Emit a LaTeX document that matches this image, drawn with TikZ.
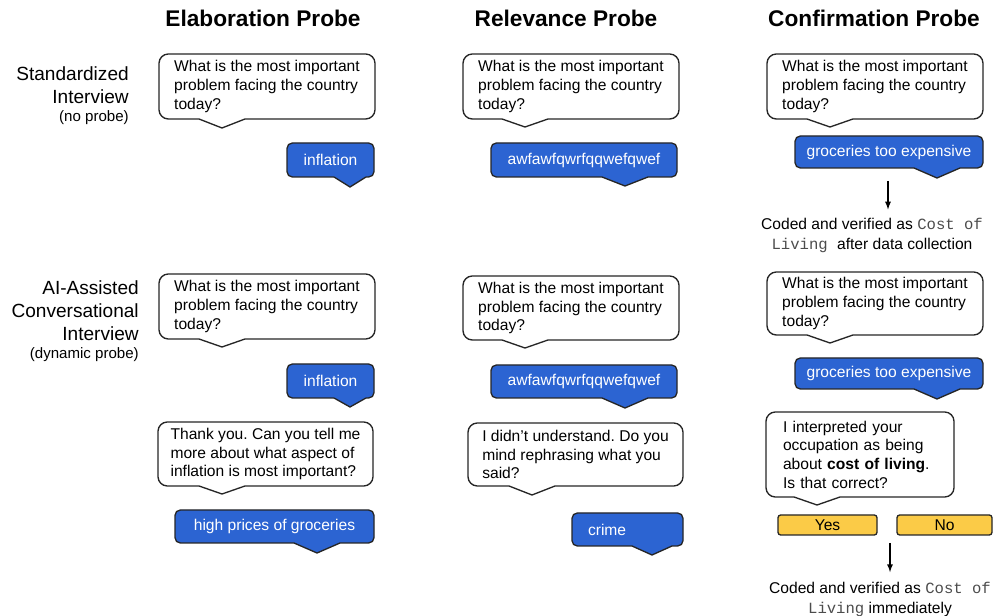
\documentclass[tikz,border=0pt]{standalone}
\usepackage{fontspec}
\setmainfont{Liberation Sans}
\setmonofont{Liberation Mono}
\usetikzlibrary{calc}
\definecolor{probeblue}{HTML}{2C64D2}
\definecolor{btnyellow}{HTML}{FBCB47}
\definecolor{edgegray}{HTML}{262626}
\newcommand{\bodytxt}{\fontsize{11.7}{14}\selectfont}
\newcommand{\cat}[1]{{\ttfamily\color{black!70}#1}}
% tail under a bubble: node, fill, tip offset from west, half base, depth
\newcommand{\bubbletail}[5]{%
  \fill[#2] ($(#1.south west)+(#3-#4,-1)$) rectangle ($(#1.south west)+(#3+#4,1)$);
  \filldraw[fill=#2,draw=edgegray,line width=1pt] ($(#1.south west)+(#3-#4,0)$) -- ($(#1.south west)+(#3,#5)$) -- ($(#1.south west)+(#3+#4,0)$);}
\tikzset{
  qbox/.style={draw=edgegray, line width=1pt, fill=white, rounded corners=7pt, outer sep=0pt, inner sep=0pt, align=left, font=\bodytxt, anchor=north west},
  abox/.style={draw=edgegray, line width=1pt, fill=probeblue, text=white, rounded corners=4pt, outer sep=0pt, inner sep=0pt, font=\bodytxt, anchor=north west},
  btn/.style={draw=edgegray, line width=1pt, fill=btnyellow, rounded corners=2pt, outer sep=0pt, inner sep=0pt, font=\bodytxt, anchor=north west, minimum height=15pt},
  ttl/.style={font=\fontsize{17}{20}\selectfont\bfseries},
  rowlbl/.style={font=\fontsize{14.3}{17.3}\selectfont, align=right, anchor=east, inner sep=0pt},
  rowsub/.style={font=\fontsize{11.3}{13}\selectfont, anchor=east, inner sep=0pt},
  coded/.style={font=\fontsize{11.7}{15}\selectfont, align=center, inner sep=0pt},
  arr/.style={-latex, line width=1pt}
}
\frenchspacing
\begin{document}
\begin{tikzpicture}[x=0.75pt, y=-0.75pt]
\useasboundingbox (0,0) rectangle (993,616);

\node[ttl] (tElab) at (263,18) {Elaboration Probe};
\node[ttl] (tRel) at (566,18) {Relevance Probe};
\node[ttl] (tConf) at (874,18) {Confirmation Probe};

\node[rowlbl] (lStd) at (129,85.5) {Standardized\\Interview};
\node[rowsub] (lStdSub) at (129,118) {(no probe)};
\node[rowlbl] (lAI) at (139,310.5) {AI-Assisted\\Conversational\\Interview};
\node[rowsub] (lAISub) at (139,355) {(dynamic probe)};

% standardized row
\node[qbox, minimum width=162pt, minimum height=48.75pt] (e1q) at (159,54) {What is the most important\\problem facing the country\\today?};
\bubbletail{e1q}{white}{63}{23}{9}
\node[abox, minimum width=65.25pt, minimum height=25.5pt] (e1a) at (287,143) {inflation};
\bubbletail{e1a}{probeblue}{63}{16}{10}

\node[qbox, minimum width=162pt, minimum height=48.75pt] (r1q) at (463,54) {What is the most important\\problem facing the country\\today?};
\bubbletail{r1q}{white}{62}{23}{8}
\node[abox, minimum width=139.5pt, minimum height=25.5pt] (r1a) at (491,143) {awfawfqwrfqqwefqwef};
\bubbletail{r1a}{probeblue}{134}{23}{9}

\node[qbox, minimum width=162pt, minimum height=48.75pt] (c1q) at (767,54) {What is the most important\\problem facing the country\\today?};
\bubbletail{c1q}{white}{63}{23}{8}
\node[abox, minimum width=141pt, minimum height=24pt] (c1a) at (795,136) {groceries too expensive};
\bubbletail{c1a}{probeblue}{142}{23}{10}

\coordinate (c1out) at (888,181);
\node[coded] (c1code) at (872,235) {Coded and verified as \cat{Cost of}\\\cat{Living }after data collection};
\draw[arr, shorten >=6pt] (c1out) -- (c1out |- c1code.north);

% conversational row
\node[qbox, minimum width=162pt, minimum height=48.75pt] (e2q) at (159,274) {What is the most important\\problem facing the country\\today?};
\bubbletail{e2q}{white}{63}{23}{8}
\node[abox, minimum width=65.25pt, minimum height=25.5pt] (e2a) at (287,364) {inflation};
\bubbletail{e2a}{probeblue}{63}{16}{9}
\node[qbox, minimum width=161.25pt, minimum height=48pt] (e2f) at (158,422) {Thank you. Can you tell me\\more about what aspect of\\inflation is most important?};
\bubbletail{e2f}{white}{64}{23}{8}
\node[abox, minimum width=149.25pt, minimum height=24.75pt] (e2b) at (175,510) {high prices of groceries};
\bubbletail{e2b}{probeblue}{142}{23}{10}

\node[qbox, minimum width=162pt, minimum height=48pt] (r2q) at (463,276) {What is the most important\\problem facing the country\\today?};
\bubbletail{r2q}{white}{62}{23}{8}
\node[abox, minimum width=139.5pt, minimum height=24.75pt] (r2a) at (491,365) {awfawfqwrfqqwefqwef};
\bubbletail{r2a}{probeblue}{134}{23}{10}
\node[qbox, minimum width=161.25pt, minimum height=47.25pt] (r2f) at (468,423) {I didn't understand. Do you\\mind rephrasing what you\\said?};
\bubbletail{r2f}{white}{64}{23}{9}
\node[abox, text width=59.25pt, inner xsep=12pt, align=left, minimum height=24.75pt] (r2b) at (572,513) {crime};
\bubbletail{r2b}{probeblue}{80}{20}{9}

\node[qbox, minimum width=162pt, minimum height=47.25pt] (c2q) at (767,272) {What is the most important\\problem facing the country\\today?};
\bubbletail{c2q}{white}{63}{23}{8}
\node[abox, minimum width=141pt, minimum height=23.25pt] (c2a) at (795,358) {groceries too expensive};
\bubbletail{c2a}{probeblue}{142}{23}{10}
\node[qbox, text width=115.5pt, inner xsep=12.75pt, minimum height=63.75pt] (c2f) at (766,412) {I interpreted your\\occupation as being\\about \textbf{cost of living}.\\Is that correct?};
\bubbletail{c2f}{white}{51}{23}{8}
\node[btn, minimum width=74.25pt] (yes) at (778,515) {Yes};
\node[btn, minimum width=71.25pt] (no) at (897,515) {No};

\coordinate (c2out) at (890,543);
\node[coded] (c2code) at (880,599) {Coded and verified as \cat{Cost of}\\\cat{Living} immediately};
\draw[arr, shorten >=7pt] (c2out) -- (c2out |- c2code.north);
\end{tikzpicture}
\end{document}
